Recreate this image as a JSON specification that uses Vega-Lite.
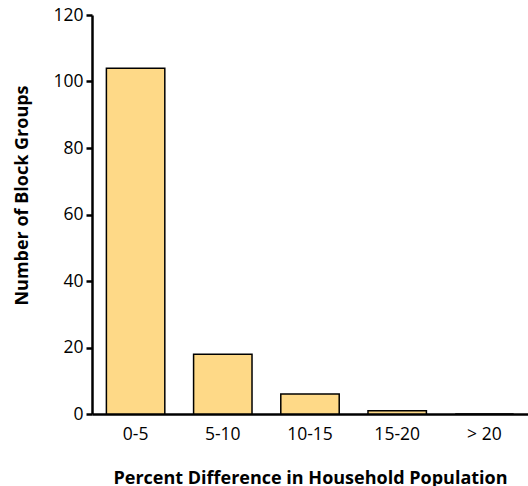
{
  "$schema": "https://vega.github.io/schema/vega-lite/v6.json",
  "width": 436,
  "height": 399,
  "autosize": "none",
  "padding": {"left": 92, "top": 15, "right": 0, "bottom": 72},
  "background": "white",
  "config": {
    "view": {"stroke": null},
    "font": "Open Sans"
  },
  "data": {
    "values": [
      {"range": "0-5", "count": 104},
      {"range": "5-10", "count": 18},
      {"range": "10-15", "count": 6},
      {"range": "15-20", "count": 1},
      {"range": "> 20", "count": 0}
    ]
  },
  "mark": {"type": "bar", "fill": "#FED987", "stroke": "black", "strokeWidth": 1.5},
  "encoding": {
    "x": {
      "field": "range",
      "type": "nominal",
      "sort": null,
      "scale": {"paddingInner": 0.33, "paddingOuter": 0.165},
      "axis": {
        "title": "Percent Difference in Household Population",
        "titleFont": "Open Sans",
        "titleFontSize": 18,
        "titleFontWeight": "bold",
        "titleColor": "black",
        "titleBaseline": "middle",
        "titleY": 64,
        "labelAngle": 0,
        "labelFontSize": 17.5,
        "labelColor": "black",
        "labelPadding": 11,
        "ticks": false,
        "domainColor": "black",
        "domainWidth": 2.5
      }
    },
    "y": {
      "field": "count",
      "type": "quantitative",
      "scale": {"domain": [0, 120], "nice": false},
      "axis": {
        "title": "Number of Block Groups",
        "titleFont": "Open Sans",
        "titleFontSize": 18,
        "titleFontWeight": "bold",
        "titleColor": "black",
        "titleAngle": -90,
        "titleBaseline": "middle",
        "titleX": -70,
        "titleY": 180,
        "values": [0, 20, 40, 60, 80, 100, 120],
        "grid": false,
        "labelFontSize": 17.5,
        "labelColor": "black",
        "labelPadding": 3,
        "tickColor": "black",
        "tickWidth": 2.5,
        "tickSize": 6,
        "domainColor": "black",
        "domainWidth": 2.5
      }
    }
  }
}
